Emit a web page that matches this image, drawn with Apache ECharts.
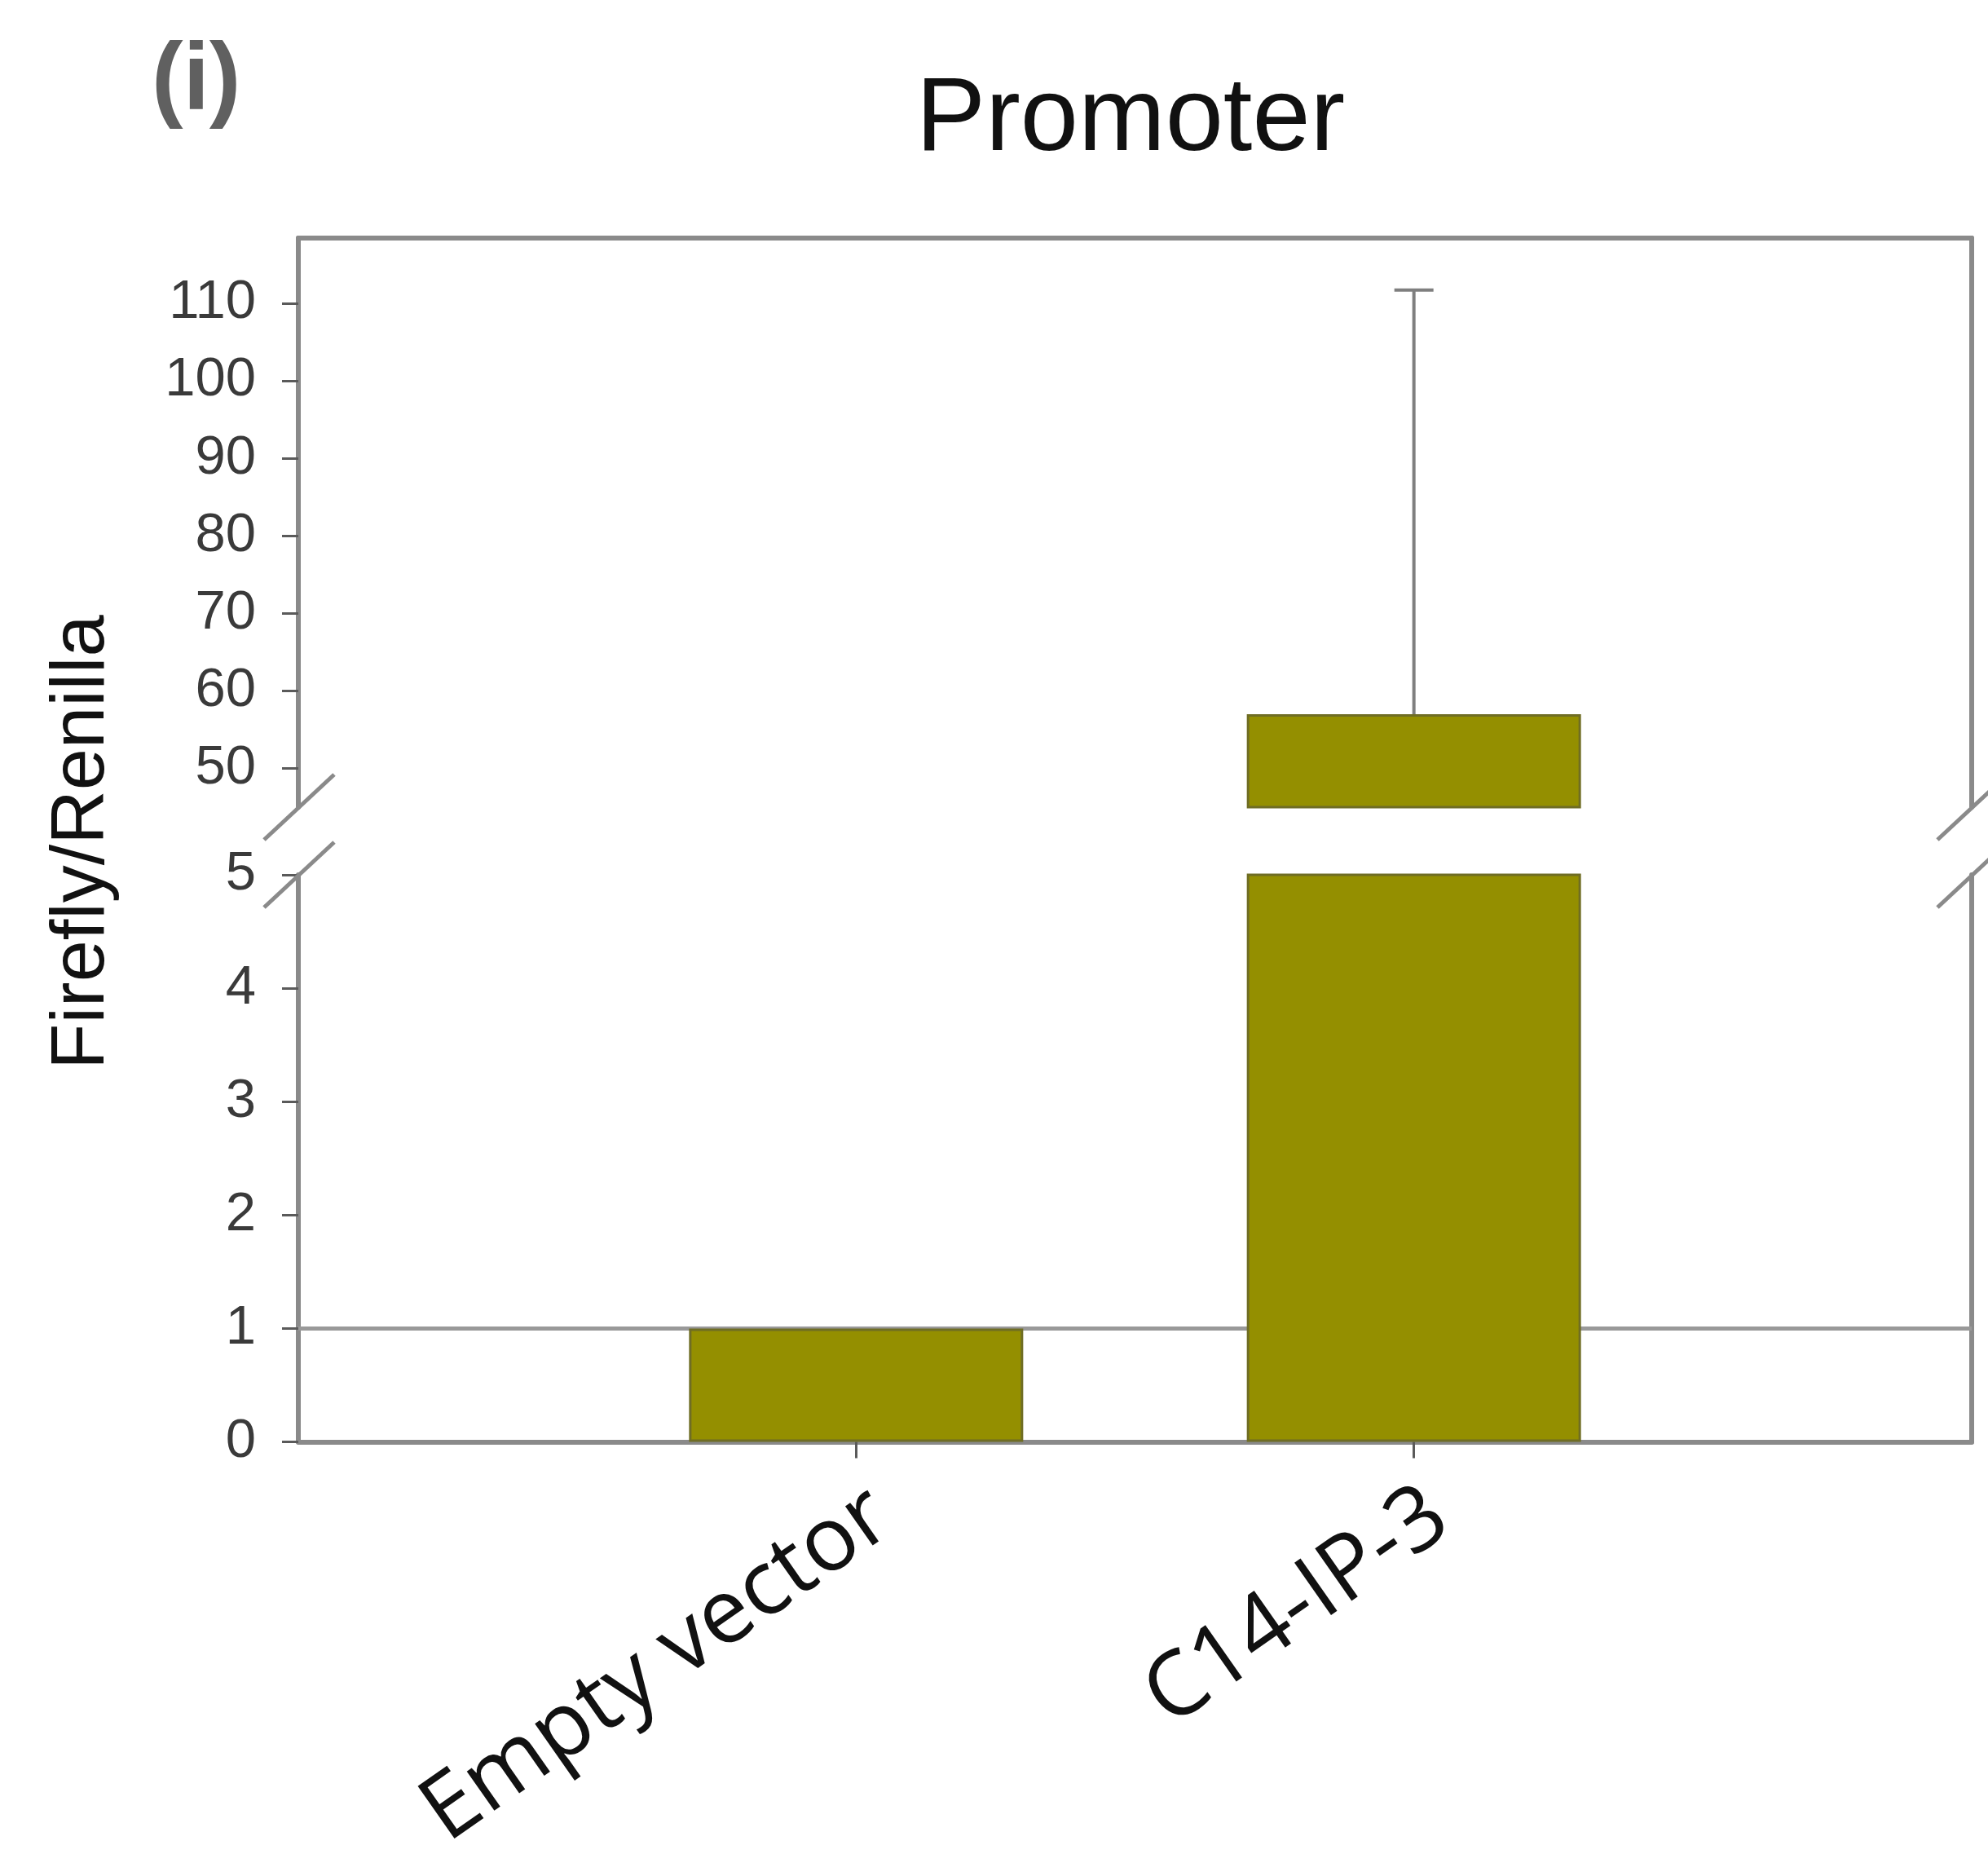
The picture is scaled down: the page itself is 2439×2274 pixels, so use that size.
<!DOCTYPE html>
<html>
<head>
<meta charset="utf-8">
<script src="https://cdn.jsdelivr.net/npm/echarts@6/dist/echarts.min.js"></script>
<style>
html,body{margin:0;padding:0;background:#fff;}
#chart{width:2439px;height:2274px;}
</style>
</head>
<body>
<div id="chart"></div>
<script>
// ---- data ----
const categories = ['Empty vector', 'C14-IP-3'];
const values = [1, 57];
const errorTop = [null, 111.7];
const lowerTicks = [0, 1, 2, 3, 4, 5];
const upperTicks = [50, 60, 70, 80, 90, 100, 110];
const lowerRange = [0, 5];
const upperRange = [45, 118.4];
const referenceLine = 1;
const titleText = 'Promoter';
const yTitle = 'Firefly/Renilla';
const panelLabel = '(i)';

// ---- derived ----
const axisData = [''].concat(categories, ['']);
const lowerData = [null].concat(values, [null]).map(v => v == null ? '-' : v);
const upperData = [null].concat(values, [null]).map(v => (v == null || v <= upperRange[0]) ? '-' : v);
const errData = [];
errorTop.forEach((e, i) => { if (e != null) errData.push([i + 1, values[i], e]); });

const FRAME = '#8a8a8a';
const TICK = '#5a5a5a';
const BAR = '#948f00';
const BAR_BORDER = '#6f6d24';

const chart = echarts.init(document.getElementById('chart'), null, {renderer: 'canvas'});

function breakMarks(edge) {
  return function (params, api) {
    const cs = params.coordSys;
    const cy = edge === 'bottom' ? cs.y + cs.height : cs.y;
    const xs = [cs.x, cs.x + cs.width];
    return {
      type: 'group',
      children: xs.map(cx => ({
        type: 'line',
        shape: {x1: cx - 42, y1: cy + 40, x2: cx + 44, y2: cy - 40},
        style: {stroke: FRAME, lineWidth: 5}
      }))
    };
  };
}

const valueAxisBase = (grid, range, ticks, showLabels, pos) => ({
  type: 'value', gridIndex: grid, min: range[0], max: range[1], position: pos,
  axisLine: {show: true, onZero: false, lineStyle: {color: FRAME, width: 6}},
  axisTick: {show: showLabels, length: 20, customValues: ticks, lineStyle: {color: TICK, width: 3}},
  axisLabel: {show: showLabels, customValues: ticks, margin: 52, fontSize: 67,
              fontFamily: 'Liberation Sans, Arial, sans-serif', color: '#3a3a3a'},
  splitLine: {show: false}
});

const option = {
  backgroundColor: '#fff',
  animation: false,
  title: {
    text: titleText, left: 1382, top: 80, textAlign: 'center',
    textStyle: {fontFamily: 'Liberation Sans, Arial, sans-serif', fontSize: 128, fontWeight: 'normal', color: '#111'}
  },
  graphic: [
    {type: 'text', left: 186, top: 44,
     style: {text: panelLabel, font: 'bold 116px "Liberation Sans", Arial, sans-serif', fill: '#606060'}},
    {type: 'text', x: 102, y: 1033, rotation: Math.PI / 2,
     style: {text: yTitle, font: '92px "Liberation Sans", Arial, sans-serif', fill: '#111',
             textAlign: 'center', textVerticalAlign: 'middle'}}
  ],
  grid: [
    {left: 366, right: 20, top: 1073, height: 695.6, containLabel: false, outerBoundsMode: 'none'},
    {left: 366, right: 20, top: 292, height: 698, containLabel: false, outerBoundsMode: 'none'}
  ],
  xAxis: [
    {type: 'category', gridIndex: 0, data: axisData, boundaryGap: false, position: 'bottom',
     axisLine: {show: true, onZero: false, lineStyle: {color: FRAME, width: 6}},
     axisTick: {show: true, length: 20, interval: (i, v) => v !== '', lineStyle: {color: TICK, width: 3}},
     axisLabel: {interval: 0, rotate: 35, align: 'right', verticalAlign: 'top', margin: 36,
                 fontFamily: '"Open Sans", sans-serif', fontSize: 110, color: '#111'},
     splitLine: {show: false}},
    {type: 'category', gridIndex: 1, data: axisData, boundaryGap: false, position: 'top',
     axisLine: {show: true, onZero: false, lineStyle: {color: FRAME, width: 6}},
     axisTick: {show: false}, axisLabel: {show: false}, splitLine: {show: false}}
  ],
  yAxis: [
    valueAxisBase(0, lowerRange, lowerTicks, true, 'left'),
    valueAxisBase(1, upperRange, upperTicks, true, 'left'),
    valueAxisBase(0, lowerRange, lowerTicks, false, 'right'),
    valueAxisBase(1, upperRange, upperTicks, false, 'right')
  ],
  series: [
    {type: 'bar', xAxisIndex: 0, yAxisIndex: 0, data: lowerData, barWidth: 410, z: 3, clip: true,
     itemStyle: {color: BAR, borderColor: BAR_BORDER, borderWidth: 3},
     markLine: {silent: true, symbol: 'none', z: 1, label: {show: false},
                lineStyle: {color: '#999', width: 5, type: 'solid'},
                data: [{yAxis: referenceLine}]}},
    {type: 'bar', xAxisIndex: 1, yAxisIndex: 1, data: upperData, barWidth: 410, z: 3, clip: true,
     itemStyle: {color: BAR, borderColor: BAR_BORDER, borderWidth: 3}},
    {type: 'custom', xAxisIndex: 1, yAxisIndex: 1, data: errData, z: 4, clip: false,
     renderItem: function (params, api) {
       const x = api.value(0);
       const p1 = api.coord([x, api.value(1)]);
       const p2 = api.coord([x, api.value(2)]);
       return {type: 'group', children: [
         {type: 'line', shape: {x1: p1[0], y1: p1[1], x2: p2[0], y2: p2[1]}, style: {stroke: '#7f7f7f', lineWidth: 4}},
         {type: 'line', shape: {x1: p2[0] - 24, y1: p2[1], x2: p2[0] + 24, y2: p2[1]}, style: {stroke: '#7f7f7f', lineWidth: 4}}
       ]};
     }},
    {type: 'custom', xAxisIndex: 1, yAxisIndex: 1, data: [[1, upperRange[0]]], z: 5, clip: false,
     renderItem: breakMarks('bottom')},
    {type: 'custom', xAxisIndex: 0, yAxisIndex: 0, data: [[1, lowerRange[1]]], z: 5, clip: false,
     renderItem: breakMarks('top')}
  ]
};
chart.setOption(option);
</script>
</body>
</html>
